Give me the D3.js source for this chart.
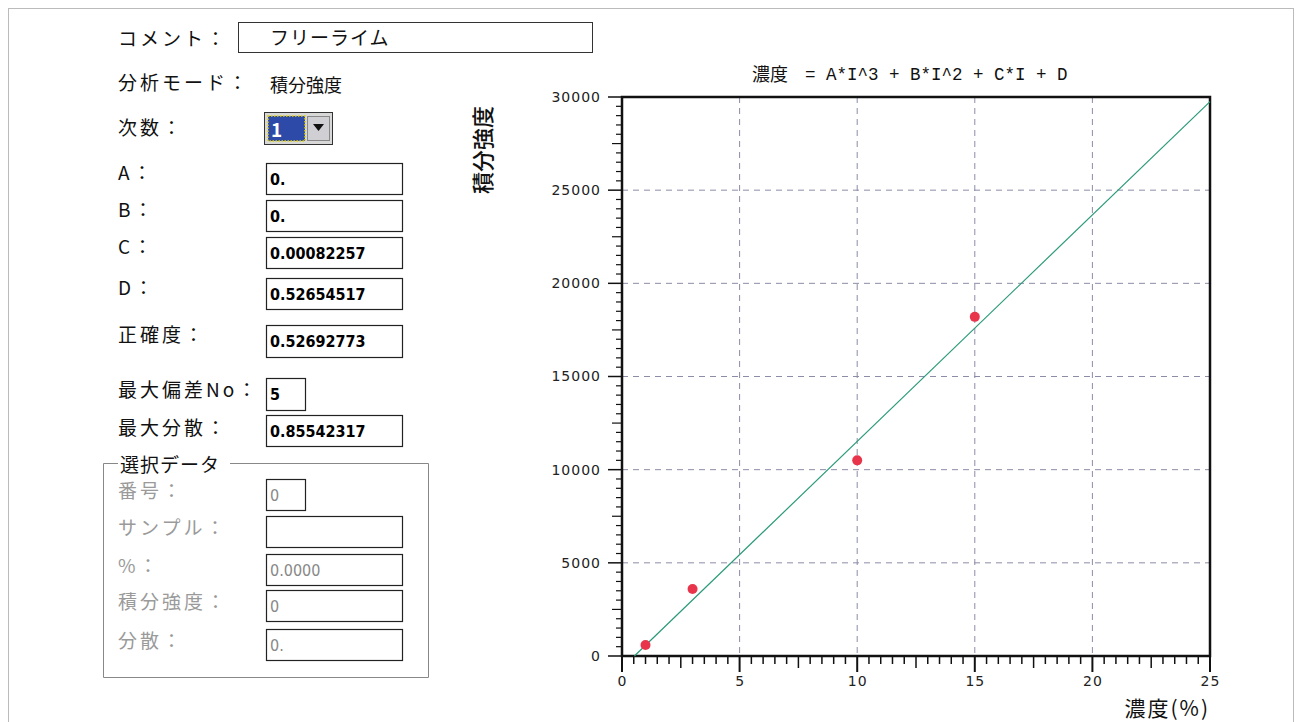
<!DOCTYPE html>
<html><head><meta charset="utf-8">
<script src="https://cdn.jsdelivr.net/npm/d3@7/dist/d3.min.js"></script>
<style>
body{margin:0;background:#fff;}
svg text{font-family:"Noto Sans CJK JP","Noto Sans",sans-serif;}
</style></head>
<body><svg id="c" width="1301" height="722"></svg>
<script>
// ---- data ----
const concentration = [1, 3, 10, 15];
const intensity = [590, 3600, 10500, 18200];
const coefA = 0, coefB = 0, coefC = 0.00082257, coefD = 0.52654517;
const xTicks = [0, 5, 10, 15, 20, 25];
const yTicks = [0, 5000, 10000, 15000, 20000, 25000, 30000];
const formLabels = ["A：", "B：", "C：", "D："];
const formValues = ["0.", "0.", "0.00082257", "0.52654517"];
const groupLabels = ["番号：", "サンプル：", "%：", "積分強度：", "分散："];
const groupValues = ["0", "", "0.0000", "0", "0."];

const svg = d3.select("#c");

// page frame
svg.append("rect").attr("x", 8.5).attr("y", 8.5).attr("width", 1285).attr("height", 720)
  .attr("fill", "none").attr("stroke", "#bbb").attr("stroke-width", 1);

// ---- left panel ----
const L = svg.append("g");
function label(x, y, t, col) {
  return L.append("text").attr("x", x).attr("y", y).text(t)
    .attr("font-size", 19).style("letter-spacing", "3px").attr("fill", col || "#111");
}
function box(x, y, w, h, t, col) {
  L.append("rect").attr("x", x + 0.5).attr("y", y + 0.5).attr("width", w).attr("height", h)
    .attr("fill", "#fff").attr("stroke", "#222").attr("stroke-width", 1.2);
  if (t !== undefined && t !== "") {
    L.append("text").attr("x", x + 4).attr("y", y + h / 2 + 6).text(t)
      .attr("font-size", 16).attr("font-weight", col ? "normal" : "bold")
      .style("font-family", "'Liberation Sans Narrow','DejaVu Sans Condensed',sans-serif")
      .attr("fill", col || "#000");
  }
}
label(118, 46, "コメント：");
L.append("rect").attr("x", 238.5).attr("y", 22.5).attr("width", 354).attr("height", 30)
  .attr("fill", "#fff").attr("stroke", "#333");
L.append("text").attr("x", 270).attr("y", 45).text("フリーライム").attr("font-size", 19).style("letter-spacing", "1px").attr("fill", "#111");
label(118, 90, "分析モード：");
L.append("text").attr("x", 270).attr("y", 92).text("積分強度").attr("font-size", 18).attr("fill", "#111");
label(118, 135, "次数：");
// dropdown
L.append("rect").attr("x", 264.5).attr("y", 112.5).attr("width", 68).attr("height", 32).attr("fill", "#d8d8d8").attr("stroke", "#333");
L.append("rect").attr("x", 268).attr("y", 116).attr("width", 37).attr("height", 25).attr("fill", "#2e4aa8")
  .attr("stroke", "#e0d000").attr("stroke-dasharray", "1.5,1.5").attr("stroke-width", 1.5);
L.append("text").attr("x", 271).attr("y", 137).text("1").attr("font-size", 19).attr("font-weight", "bold").attr("fill", "#fff");
L.append("rect").attr("x", 307.5).attr("y", 116.5).attr("width", 22).attr("height", 24).attr("fill", "#cfcfd4").attr("stroke", "#888");
L.append("path").attr("d", "M313,124 L324,124 L318.5,131 Z").attr("fill", "#111");

const rowY = [163, 200, 237, 278];
formLabels.forEach((t, i) => {
  label(118, rowY[i] + 17, t);
  box(266, rowY[i], 136, 31, formValues[i]);
});
label(118, 342, "正確度：");
box(266, 325, 136, 32, "0.52692773");
label(118, 397, "最大偏差No：");
box(266, 378, 39, 32, "5");
label(118, 435, "最大分散：");
box(266, 415, 136, 31, "0.85542317");

// group box
L.append("path").attr("d", "M118,463.5 L103.5,463.5 L103.5,677.5 L428.5,677.5 L428.5,463.5 L230,463.5")
  .attr("fill", "none").attr("stroke", "#888").attr("stroke-width", 1);
L.append("text").attr("x", 120).attr("y", 472).text("選択データ")
  .attr("font-size", 19).style("letter-spacing", "1px").attr("fill", "#111");
const gY = [479, 516, 554, 590, 629];
const gW = [39, 136, 136, 136, 136];
groupLabels.forEach((t, i) => {
  label(118, gY[i] + 19, t, "#9a9a9a");
  box(266, gY[i], gW[i], 31, groupValues[i], "#888");
});

// ---- chart ----
const x = d3.scaleLinear().domain([0, 25]).range([622, 1210]);
const y = d3.scaleLinear().domain([0, 30000]).range([656, 97]);
const C = svg.append("g");

// grid
C.selectAll(".gx").data(xTicks.filter(d => d > 0 && d < 25)).enter().append("line")
  .attr("x1", d => x(d)).attr("x2", d => x(d)).attr("y1", y(30000)).attr("y2", y(0))
  .attr("stroke", "#8c8ca8").attr("stroke-dasharray", "6,5").attr("stroke-width", 1);
C.selectAll(".gy").data(yTicks.filter(d => d > 0 && d < 30000)).enter().append("line")
  .attr("x1", x(0)).attr("x2", x(25)).attr("y1", d => y(d)).attr("y2", d => y(d))
  .attr("stroke", "#8c8ca8").attr("stroke-dasharray", "6,5").attr("stroke-width", 1);

// axes with minor ticks
const xMinor = d3.range(0, 25.01, 0.5);
const yMinor = d3.range(0, 30001, 500);
C.selectAll(".tx").data(xMinor).enter().append("line")
  .attr("x1", d => x(d)).attr("x2", d => x(d)).attr("y1", y(0))
  .attr("y2", d => y(0) + (d % 5 === 0 ? 16 : (d % 2.5 === 0 ? 12 : 8)))
  .attr("stroke", "#111").attr("stroke-width", d => d % 5 === 0 ? 2 : 1.5);
C.selectAll(".ty").data(yMinor).enter().append("line")
  .attr("y1", d => y(d)).attr("y2", d => y(d)).attr("x1", x(0))
  .attr("x2", d => x(0) - (d % 5000 === 0 ? 14 : (d % 2500 === 0 ? 10 : 6)))
  .attr("stroke", "#111").attr("stroke-width", d => d % 5000 === 0 ? 1.5 : 1.2);

const xAxis = d3.axisBottom(x).tickValues(xTicks).tickFormat(d3.format("d")).tickSize(0).tickPadding(20);
const yAxis = d3.axisLeft(y).tickValues(yTicks).tickFormat(d3.format("d")).tickSize(0).tickPadding(21);
const gxA = C.append("g").attr("transform", `translate(0,${y(0)})`).call(xAxis);
const gyA = C.append("g").attr("transform", `translate(${x(0)},0)`).call(yAxis);
[gxA, gyA].forEach(g => {
  g.select(".domain").remove();
  g.selectAll("text").attr("font-size", 14).attr("fill", "#222")
    .style("font-family", "'DejaVu Sans',sans-serif").style("letter-spacing", "1px");
});

// frame
C.append("rect").attr("x", x(0)).attr("y", y(30000)).attr("width", x(25) - x(0)).attr("height", y(0) - y(30000))
  .attr("fill", "none").attr("stroke", "#111").attr("stroke-width", 2.5);

// regression line: conc = C*I + D  ->  I = (conc - D)/C
const lineData = [coefD, 25].map(c => [c, (c - coefD) / coefC]);
C.append("path").datum(lineData)
  .attr("d", d3.line().x(d => x(d[0])).y(d => y(Math.min(d[1], 30000))))
  .attr("stroke", "#2a9a78").attr("stroke-width", 1.2).attr("fill", "none");

// points
C.selectAll(".pt").data(concentration).enter().append("circle")
  .attr("cx", d => x(d)).attr("cy", (d, i) => y(intensity[i])).attr("r", 5)
  .attr("fill", "#e8354c");

// titles
C.append("text").attr("x", 752).attr("y", 81).attr("fill", "#111").text("濃度").attr("font-size", 18);
C.append("text").attr("x", 805).attr("y", 80).attr("fill", "#111")
  .text("= A*I^3 + B*I^2 + C*I + D").attr("font-size", 17.5)
  .style("font-family", "'Liberation Mono','DejaVu Sans Mono',monospace");

C.append("text").attr("transform", "translate(491,150) rotate(-90)").attr("text-anchor", "middle")
  .text("積分強度").attr("font-size", 22).attr("font-weight", 500).attr("fill", "#111");
C.append("text").attr("x", 1210).attr("y", 716).attr("text-anchor", "end")
  .text("濃度(%)").attr("font-size", 21).style("letter-spacing", "2px").attr("fill", "#111");
</script></body></html>
